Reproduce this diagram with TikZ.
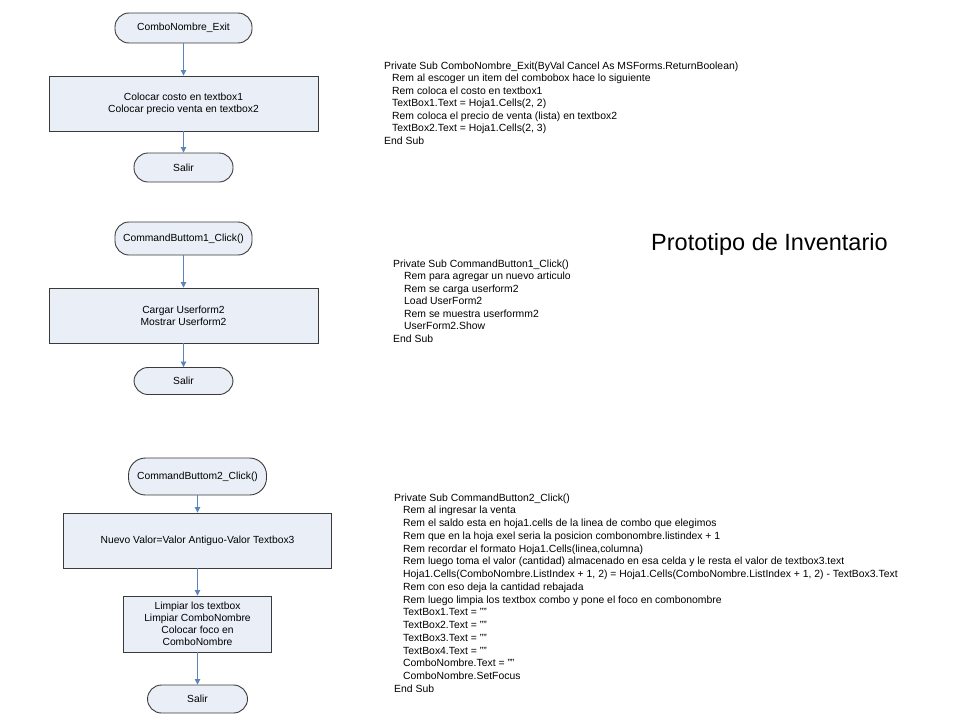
\documentclass[tikz,border=0pt]{standalone}
\usepackage{fontspec}
\setmainfont{Liberation Sans}
\usetikzlibrary{arrows.meta}
\definecolor{boxfill}{HTML}{E9EEF7}
\definecolor{boxline}{HTML}{3A3A3A}
\definecolor{arrowc}{HTML}{5B84B8}
\tikzset{
  term/.style={draw=boxline, line width=0.9pt, fill=boxfill, rounded corners=14pt, inner sep=0pt, font=\fontsize{10.3}{12}\selectfont},
  proc/.style={draw=boxline, line width=0.9pt, fill=boxfill, inner sep=0pt, align=center, font=\fontsize{10.3}{12}\selectfont},
  flow/.style={draw=arrowc, line width=0.8pt, -{Triangle[width=5.5pt,length=5.5pt]}},
  code/.style={anchor=north west, inner sep=0pt, align=left, font=\fontsize{10.4}{12.5}\selectfont},
}
\begin{document}
\begin{tikzpicture}[x=1pt,y=-1pt]
\useasboundingbox (0,0) rectangle (960,720);
% group 1
\node[term, minimum width=137pt, minimum height=30pt] (t1) at (183.5,28) {ComboNombre\_Exit};
\node[proc, minimum width=269pt, minimum height=55pt] (p1) at (183.5,103.5) {Colocar costo en textbox1\\Colocar precio venta en textbox2};
\node[term, minimum width=99pt, minimum height=29pt] (s1) at (183.5,167.5) {Salir};
\draw[flow] (t1) -- (p1);
\draw[flow] (p1) -- (s1);
% group 2
\node[term, minimum width=137pt, minimum height=33pt] (t2) at (183.5,238.5) {CommandButtom1\_Click()};
\node[proc, minimum width=269pt, minimum height=55pt] (p2) at (183.5,315.5) {Cargar Userform2\\Mostrar Userform2};
\node[term, minimum width=99pt, minimum height=27pt] (s2) at (183.5,381) {Salir};
\draw[flow] (t2) -- (p2);
\draw[flow] (p2) -- (s2);
% group 3
\node[term, minimum width=138pt, minimum height=37pt, rounded corners=17pt] (t3) at (197.5,476.5) {CommandButtom2\_Click()};
\node[proc, minimum width=268pt, minimum height=55pt] (p3) at (197.5,540.5) {Nuevo Valor=Valor Antiguo-Valor Textbox3};
\node[proc, minimum width=148pt, minimum height=56pt] (p4) at (197.5,624) {Limpiar los textbox\\Limpiar ComboNombre\\Colocar foco en\\ComboNombre};
\node[term, minimum width=100pt, minimum height=28pt] (s3) at (197.5,699) {Salir};
\draw[flow] (t3) -- (p3);
\draw[flow] (p3) -- (p4);
\draw[flow] (p4) -- (s3);
% code blocks
\node[code] (c1) at (384,61.5) {Private Sub ComboNombre\_Exit(ByVal Cancel As MSForms.ReturnBoolean)\\
\hspace*{8pt}Rem al escoger un item del combobox hace lo siguiente\\
\hspace*{8pt}Rem coloca el costo en textbox1\\
\hspace*{8pt}TextBox1.Text = Hoja1.Cells(2, 2)\\
\hspace*{8pt}Rem coloca el precio de venta (lista) en textbox2\\
\hspace*{8pt}TextBox2.Text = Hoja1.Cells(2, 3)\\
End Sub};
\node[code] (c2) at (393,259.5) {Private Sub CommandButton1\_Click()\\
\hspace*{11pt}Rem para agregar un nuevo articulo\\
\hspace*{11pt}Rem se carga userform2\\
\hspace*{11pt}Load UserForm2\\
\hspace*{11pt}Rem se muestra userformm2\\
\hspace*{11pt}UserForm2.Show\\
End Sub};
\node[code, font=\fontsize{10.4}{12.73}\selectfont] (c3) at (394,493.5) {Private Sub CommandButton2\_Click()\\
\hspace*{9pt}Rem al ingresar la venta\\
\hspace*{9pt}Rem el saldo esta en hoja1.cells de la linea de combo que elegimos\\
\hspace*{9pt}Rem que en la hoja exel seria la posicion combonombre.listindex + 1\\
\hspace*{9pt}Rem recordar el formato Hoja1.Cells(linea,columna)\\
\hspace*{9pt}Rem luego toma el valor (cantidad) almacenado en esa celda y le resta el valor de textbox3.text\\
\hspace*{9pt}Hoja1.Cells(ComboNombre.ListIndex + 1, 2) = Hoja1.Cells(ComboNombre.ListIndex + 1, 2) - TextBox3.Text\\
\hspace*{9pt}Rem con eso deja la cantidad rebajada\\
\hspace*{9pt}Rem luego limpia los textbox combo y pone el foco en combonombre\\
\hspace*{9pt}TextBox1.Text = ""\\
\hspace*{9pt}TextBox2.Text = ""\\
\hspace*{9pt}TextBox3.Text = ""\\
\hspace*{9pt}TextBox4.Text = ""\\
\hspace*{9pt}ComboNombre.Text = ""\\
\hspace*{9pt}ComboNombre.SetFocus\\
End Sub};
\node[inner sep=0pt, anchor=west, font=\fontsize{23.5}{26}\selectfont] (title) at (651,244.5) {Prototipo de Inventario};
\end{tikzpicture}
\end{document}
